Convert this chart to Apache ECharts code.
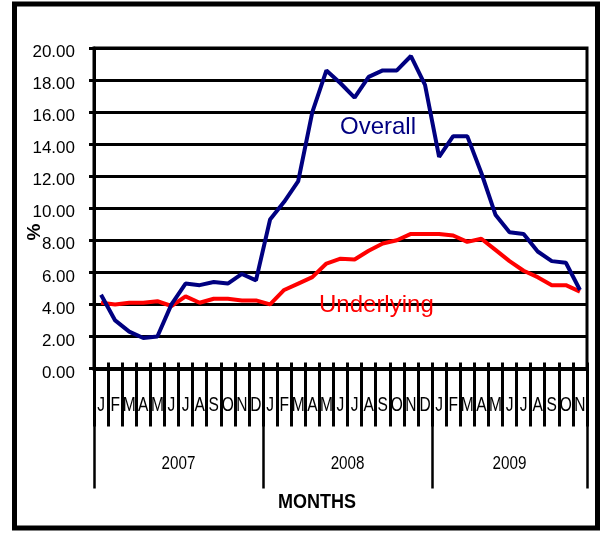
<!DOCTYPE html>
<html>
<head>
<meta charset="utf-8">
<script src="https://cdn.jsdelivr.net/npm/echarts@6/dist/echarts.min.js"></script>
<style>
  html, body { margin: 0; padding: 0; background: #fff; }
  #chart { width: 602px; height: 534px; }
</style>
</head>
<body>
<div id="chart"></div>
<script>
// Monthly inflation rates, Jan 2007 – Nov 2009 (%)
const years = ['2007', '2008', '2009'];
const monthsPerYear = [12, 12, 11];
const monthLetters = ['J', 'F', 'M', 'A', 'M', 'J', 'J', 'A', 'S', 'O', 'N', 'D'];

const overall = [
  4.6, 3.0, 2.3, 1.9, 2.0, 4.0, 5.3, 5.2, 5.4, 5.3, 5.9, 5.5,
  9.3, 10.4, 11.7, 16.0, 18.6, 17.8, 16.9, 18.2, 18.6, 18.6, 19.5, 17.7,
  13.2, 14.5, 14.5, 12.2, 9.6, 8.5, 8.4, 7.3, 6.7, 6.6, 4.9
];
const underlying = [
  4.1, 4.0, 4.1, 4.1, 4.2, 3.9, 4.5, 4.1, 4.35, 4.35, 4.25, 4.25,
  4.0, 4.9, 5.3, 5.7, 6.55, 6.85, 6.8, 7.35, 7.8, 8.0, 8.4, 8.4,
  8.4, 8.3, 7.9, 8.1, 7.4, 6.7, 6.1, 5.7, 5.2, 5.2, 4.8
];

const yMin = 0, yMax = 20, yStep = 2;

// Month categories and year boundaries derived from the month counts
const months = [];
const yearEdges = [0];
const yearMids = [];
monthsPerYear.forEach((n) => {
  for (let m = 0; m < n; m++) months.push(monthLetters[m]);
  const start = yearEdges[yearEdges.length - 1];
  yearEdges.push(start + n);
  yearMids.push(start + n / 2);
});
const totalMonths = months.length;

const sans = "'Liberation Sans', Arial, sans-serif";

const chart = echarts.init(document.getElementById('chart'), null, { renderer: 'canvas' });

chart.setOption({
  animation: false,
  backgroundColor: '#fff',
  grid: {
    left: 94, right: 15, top: 48, bottom: 165.5,
    show: true, borderColor: '#000', borderWidth: 3
  },
  xAxis: [
    {
      // month axis: long ticks below the axis line
      type: 'category',
      data: months,
      position: 'bottom',
      boundaryGap: true,
      axisLine: { show: true, lineStyle: { color: '#000', width: 4 } },
      axisTick: { show: true, interval: 0, inside: false, length: 58, lineStyle: { color: '#000', width: 3 } },
      axisLabel: { show: false },
      splitLine: { show: false }
    },
    {
      // short tick stubs above the axis line
      type: 'category',
      data: months,
      position: 'bottom',
      boundaryGap: true,
      axisLine: { show: false },
      axisTick: { show: true, interval: 0, inside: true, length: 6, lineStyle: { color: '#000', width: 3 } },
      axisLabel: { show: false },
      splitLine: { show: false }
    },
    {
      // year separators
      type: 'value',
      position: 'bottom',
      min: 0,
      max: totalMonths,
      axisLine: { show: false },
      axisTick: { show: true, customValues: yearEdges, length: 120, lineStyle: { color: '#000', width: 2.5 } },
      axisLabel: { show: false },
      splitLine: { show: false }
    }
  ],
  yAxis: {
    type: 'value',
    min: yMin,
    max: yMax,
    interval: yStep,
    axisLine: { show: true, lineStyle: { color: '#000', width: 3 } },
    axisTick: { show: true, length: 5, lineStyle: { color: '#000', width: 3 } },
    axisLabel: {
      margin: 19, color: '#000', fontSize: 17, fontFamily: sans,
      verticalAlign: 'top', lineHeight: 9,
      formatter: (v) => v.toFixed(2)
    },
    splitLine: { show: true, lineStyle: { color: '#000', width: 3 } }
  },
  series: [
    {
      name: 'Underlying',
      type: 'line',
      xAxisIndex: 0,
      data: underlying,
      symbol: 'none',
      lineStyle: { color: '#ff0000', width: 4 },
      z: 3
    },
    {
      name: 'Overall',
      type: 'line',
      xAxisIndex: 0,
      data: overall,
      symbol: 'none',
      lineStyle: { color: '#000080', width: 4 },
      z: 4
    }
  ]
});

// Condensed axis text, placed through the chart's own coordinate conversion
const baseY = chart.convertToPixel({ gridIndex: 0 }, [0, yMin])[1];
const texts = [];
months.forEach((m, i) => {
  const [px] = chart.convertToPixel({ gridIndex: 0 }, [i, yMin]);
  texts.push({
    type: 'text', x: px, y: baseY + 37, scaleX: 0.74, z: 50,
    style: { text: m, fill: '#000', font: "21px 'Liberation Sans', Arial, sans-serif", textAlign: 'center', textVerticalAlign: 'middle' }
  });
});
years.forEach((yr, i) => {
  const px = chart.convertToPixel({ xAxisIndex: 2 }, yearMids[i]);
  texts.push({
    type: 'text', x: px, y: baseY + 95, scaleX: 0.8, z: 50,
    style: { text: yr, fill: '#000', font: "19px 'Liberation Sans', Arial, sans-serif", textAlign: 'center', textVerticalAlign: 'middle' }
  });
});

chart.setOption({
  graphic: [
    {
      type: 'rect',
      shape: { x: 14.5, y: 4, width: 583, height: 524 },
      style: { fill: 'none', stroke: '#000', lineWidth: 5 },
      z: 100
    },
    {
      type: 'text', x: 317, y: 502, scaleX: 0.9, z: 50,
      style: { text: 'MONTHS', fill: '#000', font: "bold 20px 'Liberation Sans', Arial, sans-serif", textAlign: 'center', textVerticalAlign: 'middle' }
    },
    {
      type: 'text', x: 35, y: 232, rotation: Math.PI / 2, z: 50,
      style: { text: '%', fill: '#000', font: "bold 19px 'Liberation Sans', Arial, sans-serif", textAlign: 'center', textVerticalAlign: 'middle' }
    },
    {
      type: 'text', left: 340, top: 115, z: 100,
      style: { text: 'Overall', fill: '#000080', font: "24px 'Liberation Sans', Arial, sans-serif" }
    },
    {
      type: 'text', left: 319, top: 293, z: 100,
      style: { text: 'Underlying', fill: '#ff0000', font: "24px 'Liberation Sans', Arial, sans-serif" }
    }
  ].concat(texts)
});
</script>
</body>
</html>
